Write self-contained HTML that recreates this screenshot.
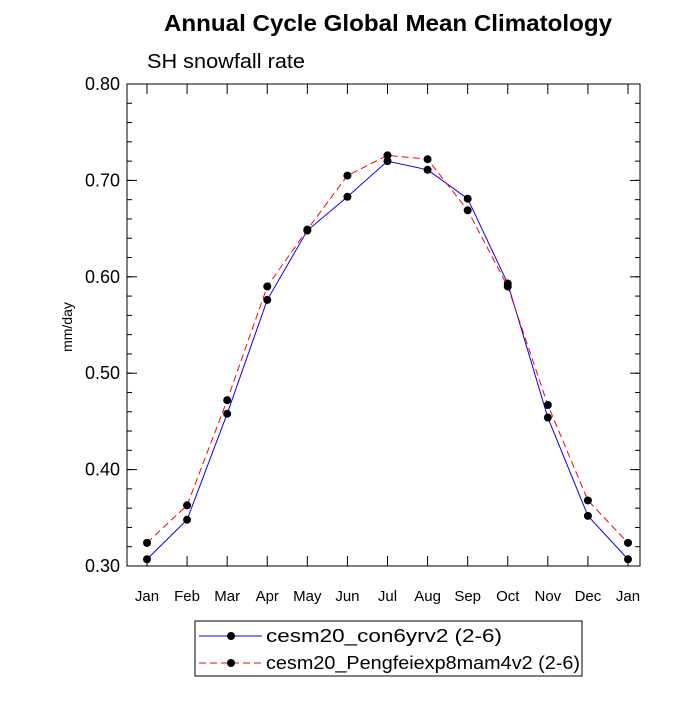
<!DOCTYPE html>
<html><head><meta charset="utf-8"><style>
body{margin:0;background:#fff;}
svg text{font-family:"Liberation Sans",Arial,sans-serif;}
</style></head><body>
<svg id="chart" width="700" height="700" xmlns="http://www.w3.org/2000/svg">
<text x="164" y="31" font-size="23" font-weight="bold" textLength="448" lengthAdjust="spacingAndGlyphs">Annual Cycle Global Mean Climatology</text>
<text x="147" y="68" font-size="20" textLength="158" lengthAdjust="spacingAndGlyphs">SH snowfall rate</text>
<text x="72" y="327" font-size="14" text-anchor="middle" transform="rotate(-90 72 327)">mm/day</text>
<g id="axes"></g>
<g id="series"></g>
<rect x="195" y="621" width="387" height="55" fill="none" stroke="#000" stroke-width="1"/>
<g>
<line x1="199" y1="636" x2="262" y2="636" stroke="#0000ff" stroke-width="1"/>
<circle cx="231" cy="636" r="4" fill="#000"/>
<text x="266" y="642" font-size="18" textLength="236" lengthAdjust="spacingAndGlyphs">cesm20_con6yrv2 (2-6)</text>
</g>
<g>
<line x1="199" y1="663" x2="262" y2="663" stroke="#ff0000" stroke-width="1" stroke-dasharray="7,4"/>
<circle cx="231" cy="663" r="4" fill="#000"/>
<text x="266" y="669" font-size="18" textLength="314" lengthAdjust="spacingAndGlyphs">cesm20_Pengfeiexp8mam4v2 (2-6)</text>
</g>
</svg>
<script>
const months=["Jan","Feb","Mar","Apr","May","Jun","Jul","Aug","Sep","Oct","Nov","Dec","Jan"];
const blueValues=[0.307,0.348,0.458,0.576,0.648,0.683,0.720,0.711,0.681,0.593,0.454,0.352,0.307];
const redValues=[0.324,0.363,0.472,0.590,0.649,0.705,0.726,0.722,0.669,0.590,0.467,0.368,0.324];
const yTicks=[0.30,0.40,0.50,0.60,0.70,0.80];
const yTickLabels=["0.30","0.40","0.50","0.60","0.70","0.80"];
const NS="http://www.w3.org/2000/svg";
const L=127,R=640,T=84,B=566,ymin=0.30,ymax=0.80;
const xs=i=>147+i*(628-147)/(months.length-1);
const ys=v=>B-(v-ymin)/(ymax-ymin)*(B-T);
function mk(tag,attrs,parent){const e=document.createElementNS(NS,tag);for(const k in attrs)e.setAttribute(k,attrs[k]);parent.appendChild(e);return e;}
const ax=document.getElementById('axes');
const frame=mk('rect',{x:L,y:T,width:R-L,height:B-T,fill:'none',stroke:'#000','stroke-width':1},ax);


yTicks.forEach((v,i)=>{const y=ys(v);
mk('line',{x1:L,y1:y,x2:L+10,y2:y,stroke:'#000'},ax);
mk('line',{x1:R,y1:y,x2:R-10,y2:y,stroke:'#000'},ax);
const t=mk('text',{x:L-7,y:y+6,'text-anchor':'end','font-size':18},ax);t.textContent=yTickLabels[i];


});
for(let v=ymin;v<ymax-1e-9;v+=0.02){const y=ys(v);
mk('line',{x1:L,y1:y,x2:L+5,y2:y,stroke:'#000'},ax);
mk('line',{x1:R,y1:y,x2:R-5,y2:y,stroke:'#000'},ax);}
months.forEach((m,i)=>{const x=xs(i);
mk('line',{x1:x,y1:B,x2:x,y2:B-10,stroke:'#000'},ax);
mk('line',{x1:x,y1:T,x2:x,y2:T+10,stroke:'#000'},ax);
const t=mk('text',{x:x,y:601,'text-anchor':'middle','font-size':15},ax);t.textContent=m;


});
const sg=document.getElementById('series');
function draw(vals,color,dash,name){
const g=mk('g',{},sg);


const p=mk('polyline',{points:vals.map((v,i)=>xs(i)+','+ys(v)).join(' '),fill:'none',stroke:color,'stroke-width':1},g);
if(dash)p.setAttribute('stroke-dasharray',dash);
vals.forEach((v,i)=>{const c=mk('circle',{cx:xs(i),cy:ys(v),r:4,fill:'#000'},g);

});
}
draw(blueValues,'#0000ff',null,'series-con6yrv2');
draw(redValues,'#ff0000','7,4','series-pengfeiexp8mam4v2');
</script>
</body></html>
